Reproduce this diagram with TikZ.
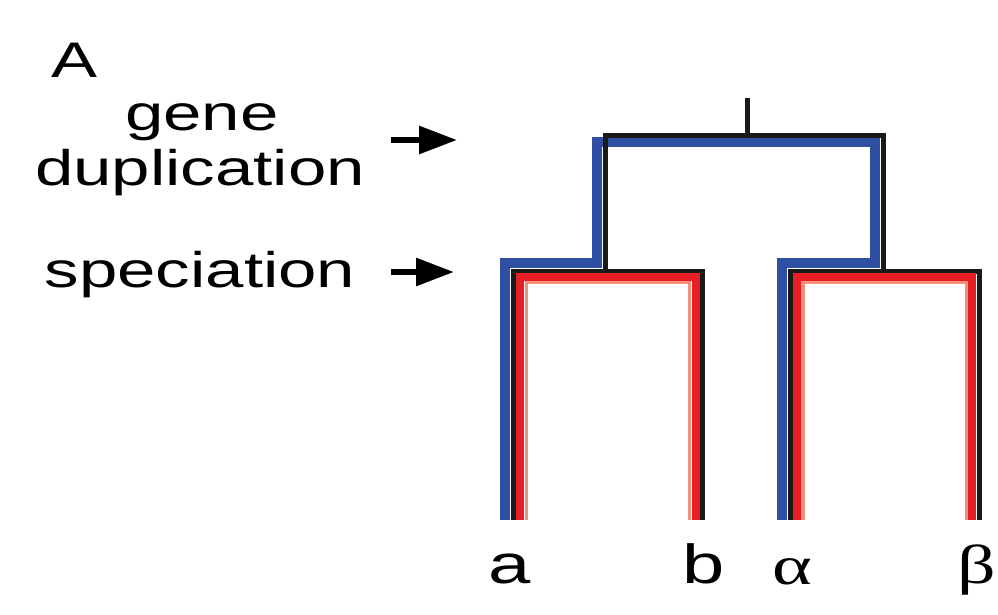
\documentclass[tikz,border=0pt]{standalone}
\usepackage{fontspec}
\setmainfont{Liberation Sans}
\newfontfamily\greekserif{Liberation Serif}
\usetikzlibrary{arrows.meta}
\definecolor{treeblue}{HTML}{2F4FA3}
\definecolor{treered}{HTML}{E61E25}
\definecolor{treepink}{HTML}{F4907A}
\definecolor{treeblack}{HTML}{1A1A1A}
\begin{document}
\begin{tikzpicture}[x=1pt,y=-1pt,
  lbl/.style={font=\fontsize{50}{50}\selectfont, xscale=1.38, anchor=base, inner sep=0pt},
  leaf/.style={font=\fontsize{55}{55}\selectfont, xscale=1.38, anchor=base, inner sep=0pt},
  bluebr/.style={line width=10pt, draw=treeblue, line join=miter},
  blackbr/.style={line width=5pt, draw=treeblack, line join=miter},
  redbr/.style={line width=8pt, draw=treered, line join=miter},
  pinkbr/.style={line width=3.5pt, draw=treepink, line join=miter},
  evarrow/.style={line width=6pt, draw=black, -{Triangle[length=38pt,width=27pt]}}]
\fill[white] (0,0) rectangle (998,614);
\useasboundingbox (0,0) rectangle (998,614);

% labels
\node[lbl] (A) at (75,77) {A};
\node[lbl] (gene) at (202,130) {gene};
\node[lbl] (dup) at (200,185) {duplication};
\node[lbl] (spec) at (200,287) {speciation};

% arrows
\coordinate (dupS) at (391,140);
\coordinate (dupE) at (457,140);
\coordinate (specS) at (391,272);
\coordinate (specE) at (454,272);
\draw[evarrow] (dupS) -- (dupE);
\draw[evarrow] (specS) -- (specE);

% blue gene tree
\draw[bluebr] (505,520) -- (505,263) -- (597,263) -- (597,142) -- (875,142) -- (875,263) -- (782,263) -- (782,520);

% black species tree
\draw[blackbr] (747,98) -- (747,136);
\draw[blackbr] (605.5,271) -- (605.5,135.5) -- (883,135.5) -- (883,271);
\draw[blackbr] (513,520) -- (513,271) -- (702,271) -- (702,520);
\draw[blackbr] (790,520) -- (790,271) -- (979,271) -- (979,520);

% red gene trees
\draw[redbr] (520,520) -- (520,277) -- (695.5,277) -- (695.5,520);
\draw[redbr] (797,520) -- (797,277) -- (972,277) -- (972,520);
\draw[pinkbr] (526.5,520) -- (526.5,282.5) -- (689.5,282.5) -- (689.5,520);
\draw[pinkbr] (803,520) -- (803,282.5) -- (966.5,282.5) -- (966.5,520);

% leaf labels
\node[leaf] (la) at (510,583) {a};
\node[leaf] (lb) at (703.5,583) {b};
\node[leaf] (lalpha) at (792,584) {\greekserif α};
\node[leaf] (lbeta) at (977,583) {\greekserif β};
\end{tikzpicture}
\end{document}
